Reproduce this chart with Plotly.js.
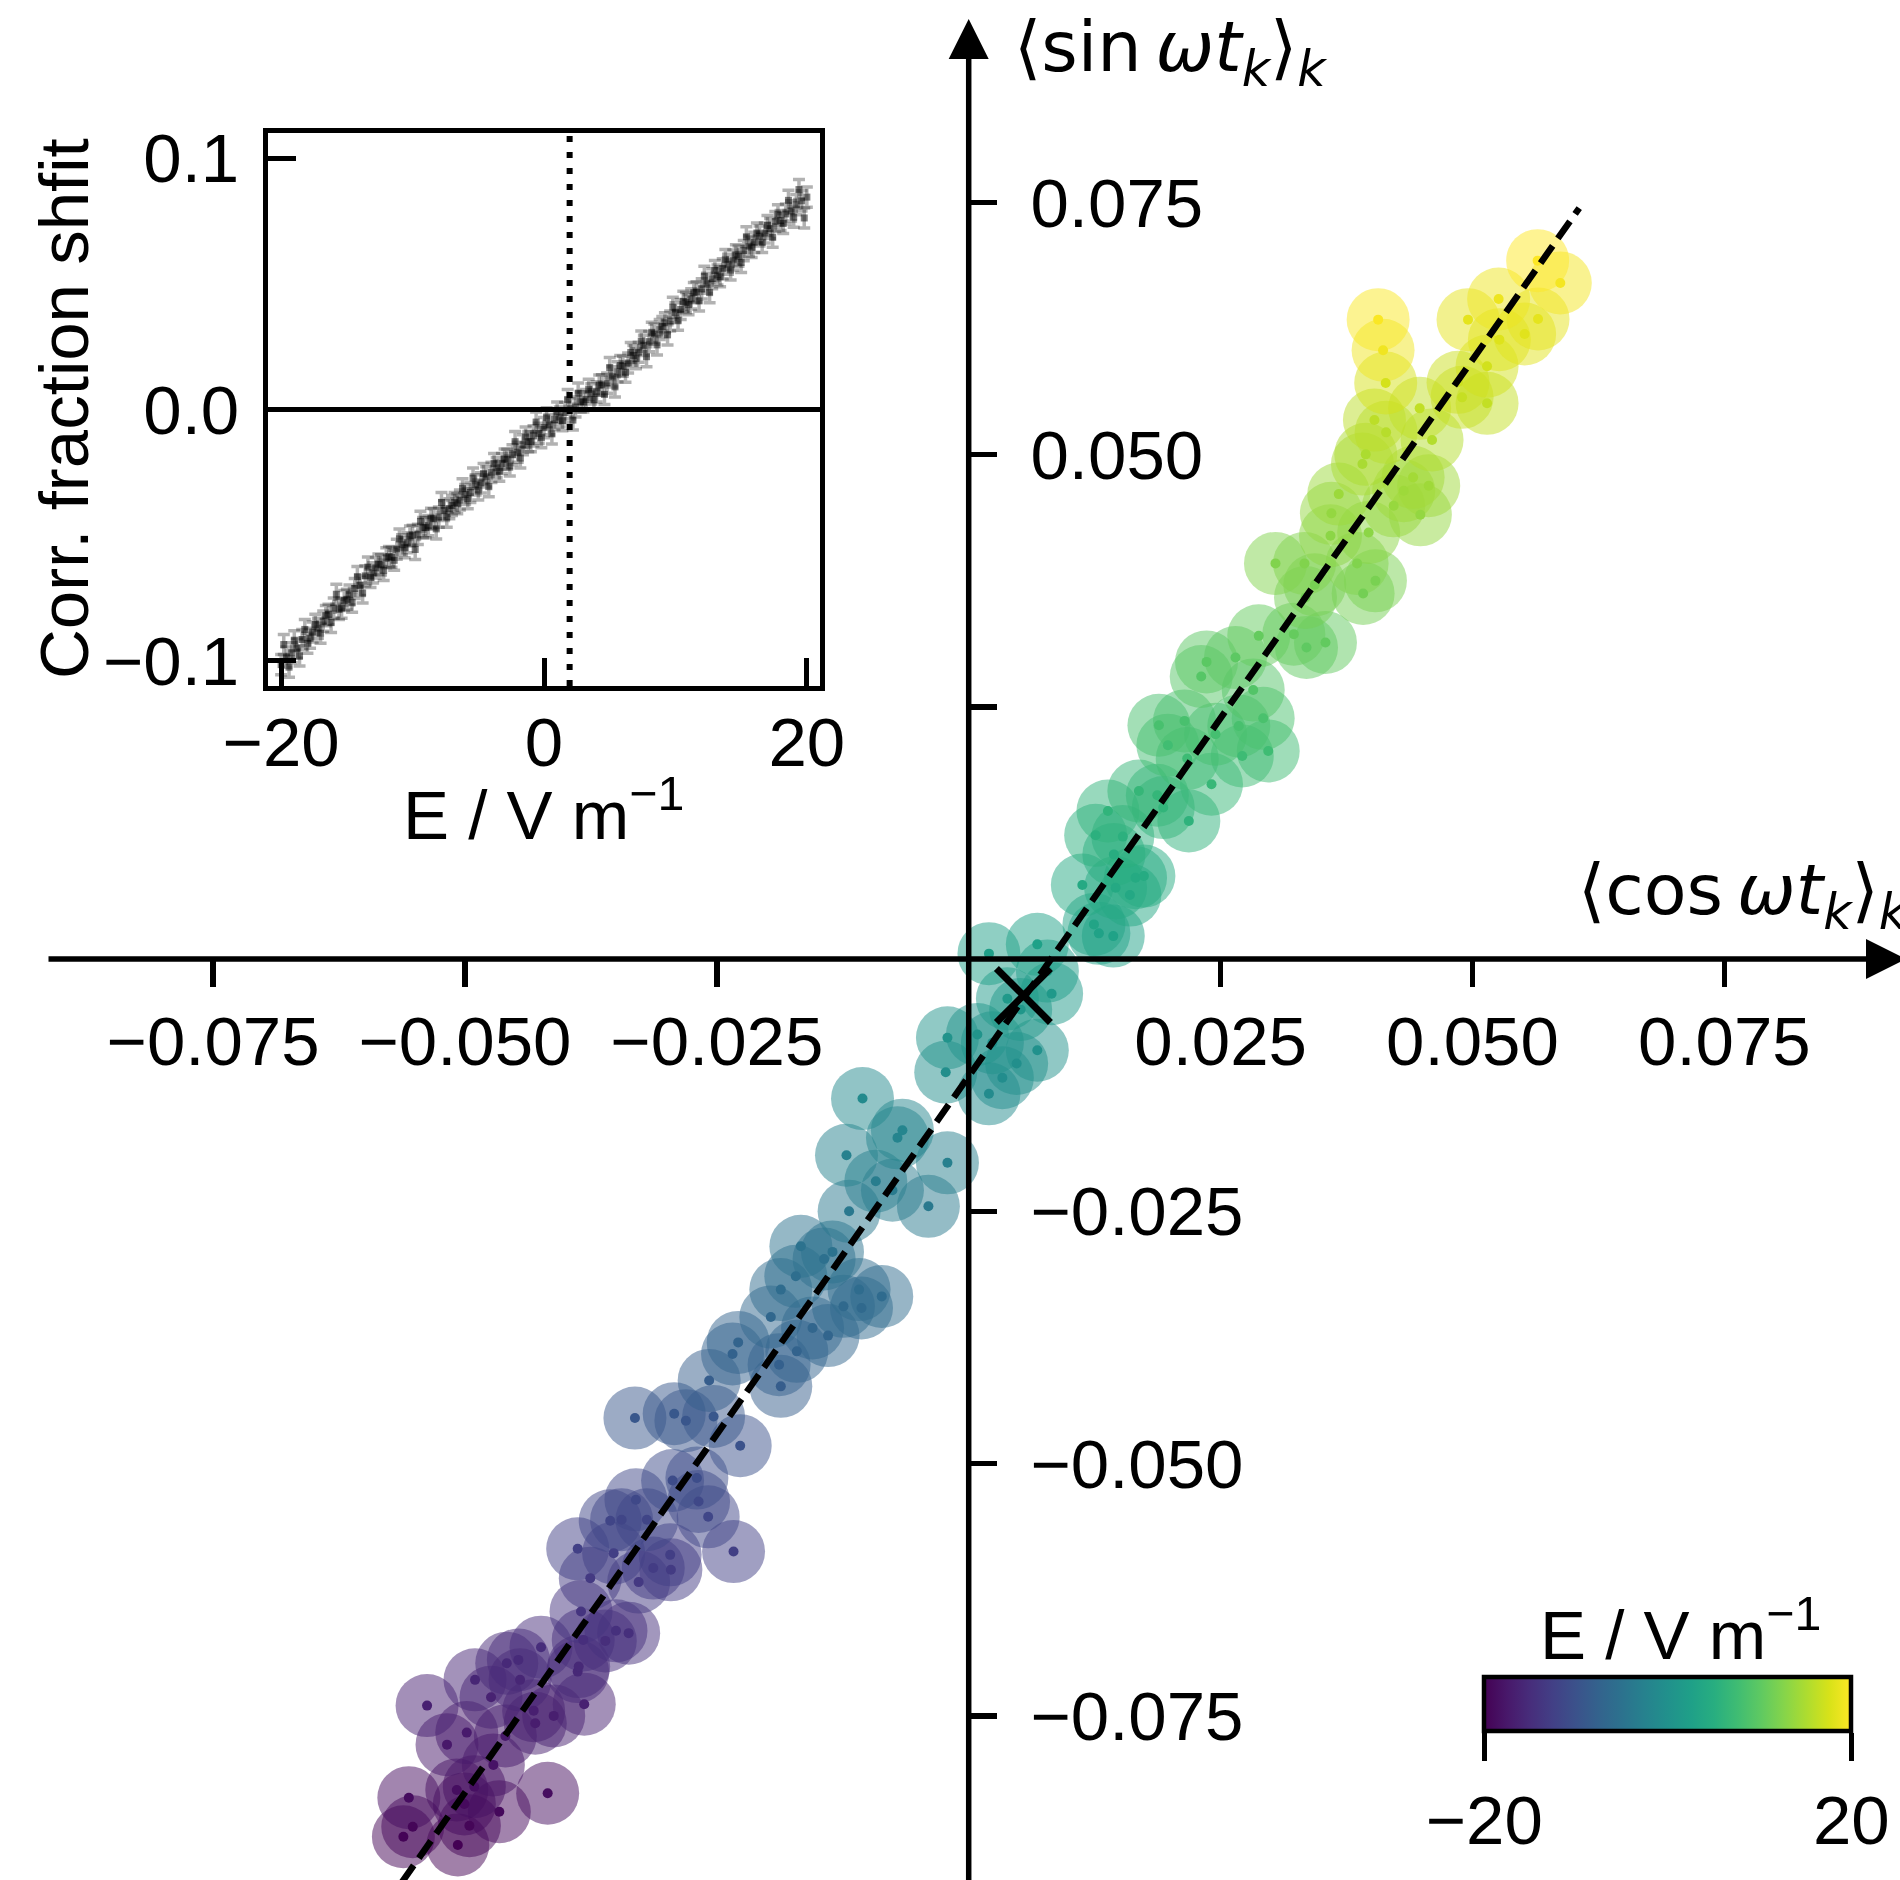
<!DOCTYPE html>
<html>
<head>
<meta charset="utf-8">
<script src="https://cdn.plot.ly/plotly-3.0.1.min.js"></script>
<style>html,body{margin:0;padding:0;background:#fff;}#chart{width:1900px;height:1880px;}</style>
</head>
<body>
<div id="chart"></div>
<script>
// ---------- main panel: one point per field value ----------
const mainCos = [-0.05071,-0.05611,-0.04956,-0.05518,-0.04659,-0.05006,-0.05557,-0.04179,-0.04907,-0.05081,-0.04718,-0.05178,-0.04599,-0.04982,-0.04302,-0.04119,-0.04318,-0.03816,-0.05376,-0.04741,-0.04453,-0.04900,-0.03881,-0.03871,-0.04470,-0.04585,-0.04245,-0.03607,-0.03826,-0.03375,-0.03501,-0.03848,-0.03276,-0.03756,-0.02956,-0.03131,-0.02334,-0.02963,-0.03524,-0.03881,-0.03194,-0.03445,-0.03558,-0.02586,-0.02681,-0.03303,-0.02939,-0.02698,
-0.02268,-0.03313,-0.02532,-0.02807,-0.02923,-0.01865,-0.02576,-0.01882,-0.02344,-0.01706,-0.02288,-0.01396,-0.01550,-0.01964,-0.01064,-0.01243,-0.00863,-0.01088,-0.01865,-0.01716,-0.01435,-0.01352,-0.01666,-0.01187,-0.00400,-0.00757,-0.00922,-0.00211,-0.01213,-0.00707,-0.00658,-0.01054,0.00201,0.00334,-0.00228,0.00476,0.00681,0.00235,0.00086,
-0.00211,0.00516,0.00384,0.00823,0.00781,0.00201,0.00681,0.01435,0.01292,0.01243,0.01600,0.01458,0.01128,0.01656,0.01739,0.01441,0.01530,0.01260,0.02185,0.01382,0.01931,0.01872,0.01689,0.02410,0.02169,0.02715,0.02973,0.01977,0.02450,0.02681,0.01888,0.02142,0.02923,0.02824,0.02308,0.02361,0.02648,0.03353,0.03541,
0.02879,0.03227,0.03343,0.03915,0.03435,0.04037,0.03855,0.03333,0.03045,0.03591,0.03970,0.03600,0.04483,0.04218,0.03673,0.04318,0.04566,0.04411,0.03908,0.03941,0.04599,0.04143,0.04027,0.04476,0.05145,0.04897,0.04857,0.05145,0.04139,0.05267,0.05518,0.04956,0.05651,0.05260,0.04113,0.05872,0.04064,0.05647];
const mainSin = [-0.08781,-0.08699,-0.08590,-0.08600,-0.08451,-0.08374,-0.08312,-0.08268,-0.08203,-0.08235,-0.07987,-0.07786,-0.07700,-0.07667,-0.07574,-0.07501,-0.07449,-0.07385,-0.07399,-0.07316,-0.07144,-0.07144,-0.07062,-0.07012,-0.06946,-0.06979,-0.06820,-0.06758,-0.06748,-0.06681,-0.06658,-0.06467,-0.06175,-0.06136,-0.06053,-0.06036,-0.05872,-0.05905,-0.05888,-0.05845,-0.05557,-0.05557,-0.05567,-0.05528,-0.05376,-0.05359,-0.05168,-0.05144,
-0.04823,-0.04549,-0.04533,-0.04575,-0.04506,-0.04235,-0.04176,-0.04020,-0.03914,-0.03888,-0.03799,-0.03732,-0.03656,-0.03547,-0.03458,-0.03442,-0.03343,-0.03276,-0.03276,-0.03144,-0.02972,-0.02902,-0.02847,-0.02500,-0.02450,-0.02291,-0.02202,-0.02019,-0.01944,-0.01771,-0.01696,-0.01382,-0.01335,-0.01176,-0.01121,-0.01035,-0.00903,-0.00829,-0.00747,
-0.00780,-0.00499,-0.00393,-0.00343,-0.00119,0.00054,0.00146,0.00228,0.00255,0.00344,0.00635,0.00708,0.00734,0.00807,0.00823,0.01038,0.01214,0.01227,0.01369,0.01468,0.01502,0.01624,0.01666,0.01733,0.01988,0.02013,0.02063,0.02120,0.02229,0.02311,0.02318,0.02361,0.02387,0.02668,0.02801,0.02946,0.02989,0.03089,0.03138,
0.03204,0.03221,0.03585,0.03624,0.03710,0.03749,0.03922,0.03922,0.03922,0.04196,0.04229,0.04418,0.04404,0.04493,0.04609,0.04642,0.04692,0.04775,0.04907,0.05003,0.05145,0.05221,0.05343,0.05459,0.05509,0.05568,0.05717,0.05876,0.05710,0.06140,0.06196,0.06338,0.06345,0.06543,0.06035,0.06702,0.06338,0.06923];
const mainE = [-20.0,-19.8,-19.5,-19.5,-19.2,-19.0,-18.8,-18.7,-18.5,-18.6,-18.0,-17.5,-17.3,-17.2,-16.9,-16.7,-16.6,-16.4,-16.5,-16.3,-15.8,-15.8,-15.6,-15.5,-15.3,-15.4,-15.0,-14.9,-14.8,-14.7,-14.6,-14.1,-13.4,-13.3,-13.1,-13.0,-12.6,-12.7,-12.6,-12.5,-11.8,-11.8,-11.8,-11.7,-11.3,-11.3,-10.8,-10.7,
-9.9,-9.2,-9.2,-9.3,-9.1,-8.4,-8.3,-7.9,-7.6,-7.5,-7.3,-7.1,-7.0,-6.7,-6.4,-6.4,-6.1,-6.0,-6.0,-5.6,-5.2,-5.0,-4.9,-4.0,-3.9,-3.5,-3.2,-2.8,-2.6,-2.1,-1.9,-1.1,-1.0,-0.6,-0.5,-0.3,0.1,0.3,0.5,
0.4,1.1,1.4,1.5,2.1,2.5,2.7,3.0,3.0,3.3,4.0,4.2,4.2,4.4,4.5,5.0,5.5,5.5,5.9,6.1,6.2,6.5,6.6,6.8,7.4,7.5,7.6,7.8,8.1,8.3,8.3,8.4,8.5,9.2,9.5,9.9,10.0,10.2,10.4,
10.5,10.6,11.5,11.6,11.8,11.9,12.4,12.4,12.4,13.1,13.1,13.6,13.6,13.8,14.1,14.2,14.3,14.5,14.9,15.1,15.5,15.7,16.0,16.3,16.4,16.6,16.9,17.3,17.5,18.0,18.2,18.5,18.5,19.0,19.2,19.4,19.8,20.0];

// linear fit through the main cloud, and the marked point
const fitSlope = 1.420;
const fitIntercept = -0.01161;
const fitCosEnds = [-0.0580, 0.0606];
const markCos = [0.00543];
const markSin = [-0.0036];

// ---------- inset: corrected fraction shift vs field ----------
const insetE_a = [-20.0,-19.6,-19.2,-18.8,-18.4,-18.0,-17.6,-17.2,-16.8,-16.4,-16.0,-15.6,-15.2,-14.8,-14.4,-14.0,-13.6,-13.2,-12.8,-12.4,-12.0,-11.6,-11.2,-10.8,-10.4,-10.0,-9.6,-9.2,-8.8,-8.4,-8.0,-7.6,-7.2,-6.8,-6.4,-6.0,-5.6,-5.2,-4.8,-4.4,-4.0,-3.6,-3.2,-2.8,-2.4,-2.0,-1.6,-1.2,-0.8,-0.4,0.0,0.4,0.8,1.2,1.6,2.0,2.4,2.8,3.2,3.6,4.0,4.4,4.8,5.2,5.6,6.0,6.4,6.8,7.2,7.6,8.0,8.4,8.8,9.2,9.6,10.0,10.4,10.8,11.2,11.6,12.0,12.4,12.8,13.2,13.6,14.0,14.4,14.8,15.2,15.6,16.0,16.4,16.8,17.2,17.6,18.0,18.4,18.8,19.2,19.6,20.0];
const insetShift_a = [-0.1015,-0.0985,-0.0968,-0.0950,-0.0915,-0.0930,-0.0885,-0.0870,-0.0842,-0.0815,-0.0790,-0.0795,-0.0760,-0.0738,-0.0712,-0.0700,-0.0662,-0.0668,-0.0630,-0.0618,-0.0590,-0.0588,-0.0556,-0.0538,-0.0530,-0.0500,-0.0497,-0.0470,-0.0462,-0.0435,-0.0428,-0.0402,-0.0395,-0.0370,-0.0360,-0.0338,-0.0330,-0.0300,-0.0292,-0.0268,-0.0250,-0.0232,-0.0215,-0.0198,-0.0180,-0.0170,-0.0140,-0.0128,-0.0105,-0.0095,-0.0072,-0.0060,-0.0040,-0.0030,-0.0012,0.0003,0.0010,0.0030,0.0040,0.0062,0.0070,0.0098,0.0105,0.0130,0.0150,0.0172,0.0185,0.0215,0.0228,0.0255,0.0270,0.0300,0.0318,0.0345,0.0352,0.0385,0.0398,0.0425,0.0440,0.0468,0.0480,0.0502,0.0520,0.0535,0.0560,0.0578,0.0595,0.0610,0.0632,0.0650,0.0665,0.0690,0.0702,0.0720,0.0748,0.0752,0.0778,0.0790,0.0815,0.0830,0.0845];
const insetE_b = [-19.8,-19.4,-19.0,-18.6,-18.2,-17.8,-17.4,-17.0,-16.6,-16.2,-15.8,-15.4,-15.0,-14.6,-14.2,-13.8,-13.4,-13.0,-12.6,-12.2,-11.8,-11.4,-11.0,-10.6,-10.2,-9.8,-9.4,-9.0,-8.6,-8.2,-7.8,-7.4,-7.0,-6.6,-6.2,-5.8,-5.4,-5.0,-4.6,-4.2,-3.8,-3.4,-3.0,-2.6,-2.2,-1.8,-1.4,-1.0,-0.6,-0.2,0.2,0.6,1.0,1.4,1.8,2.2,2.6,3.0,3.4,3.8,4.2,4.6,5.0,5.4,5.8,6.2,6.6,7.0,7.4,7.8,8.2,8.6,9.0,9.4,9.8,10.2,10.6,11.0,11.4,11.8,12.2,12.6,13.0,13.4,13.8,14.2,14.6,15.0,15.4,15.8,16.2,16.6,17.0,17.4,17.8,18.2,18.6,19.0,19.4,19.8];
const insetShift_b = [-0.0935,-0.1025,-0.0920,-0.0980,-0.0875,-0.0910,-0.0855,-0.0890,-0.0820,-0.0847,-0.0735,-0.0790,-0.0755,-0.0767,-0.0665,-0.0730,-0.0627,-0.0650,-0.0615,-0.0640,-0.0585,-0.0600,-0.0515,-0.0550,-0.0503,-0.0557,-0.0445,-0.0470,-0.0433,-0.0475,-0.0370,-0.0428,-0.0382,-0.0375,-0.0315,-0.0355,-0.0273,-0.0320,-0.0255,-0.0307,-0.0215,-0.0245,-0.0197,-0.0225,-0.0128,-0.0193,-0.0110,-0.0128,-0.0050,-0.0112,-0.0033,-0.0097,-0.0010,-0.0045,0.0040,-0.0042,0.0065,0.0030,0.0080,0.0040,0.0097,0.0060,0.0167,0.0090,0.0175,0.0148,0.0227,0.0202,0.0272,0.0210,0.0307,0.0257,0.0330,0.0297,0.0407,0.0355,0.0430,0.0417,0.0465,0.0432,0.0530,0.0465,0.0553,0.0528,0.0597,0.0555,0.0615,0.0585,0.0687,0.0645,0.0702,0.0665,0.0732,0.0685,0.0775,0.0740,0.0832,0.0765,0.0875,0.0762];
const insetErr = 0.004;
const insetZeroField = 1.95;

// ---------- ticks ----------
const mainXTickVals = [-0.075,-0.05,-0.025,0.025,0.05,0.075];
const mainXTickText = ['\u22120.075','\u22120.050','\u22120.025','0.025','0.050','0.075'];
const mainYTickVals = [-0.075,-0.05,-0.025,0.025,0.05,0.075];
const mainYTickText = ['\u22120.075','\u22120.050','\u22120.025','','0.050','0.075'];
const insetXTickVals = [-20,0,20];
const insetXTickText = ['\u221220','0','20'];
const insetYTickVals = [-0.1,0,0.1];
const insetYTickText = ['\u22120.1','0.0','0.1'];
const cbarTickVals = [-20,20];
const cbarTickText = ['\u221220','20'];

// ---------- geometry (pixels) ----------
const W = 1900, H = 1880;
const X0PX = 968.7, Y0PX = 959.1, XSCALE = 10075, YSCALE = 10089;
const px = v => v / W, py = v => (H - v) / H;

const FONT = 'Liberation Sans, Arial, Helvetica, sans-serif';
const MATHFONT = 'DejaVu Sans, sans-serif';

const fitCos = fitCosEnds.slice();
const fitSin = fitCos.map(c => fitSlope * c + fitIntercept);

const insetStyle = {
  mode: 'markers', type: 'scatter', xaxis: 'x2', yaxis: 'y2', hoverinfo: 'skip',
  marker: { size: 7, symbol: 'square', color: 'rgba(0,0,0,0.5)' },
  error_y: { type: 'constant', value: insetErr, color: 'rgba(0,0,0,0.3)', thickness: 3.5, width: 6 }
};

const traces = [
  { x: mainCos, y: mainSin, type: 'scatter', mode: 'markers', xaxis: 'x', yaxis: 'y', hoverinfo: 'skip',
    marker: { size: 63, color: mainE, colorscale: 'Viridis', cmin: -20, cmax: 20, opacity: 0.5, line: { width: 0 },
      showscale: true,
      colorbar: { orientation: 'h', x: px(1667.8), xanchor: 'center', y: py(1677), yanchor: 'top',
        len: 367, lenmode: 'pixels', thickness: 54, thicknessmode: 'pixels', xpad: 0, ypad: 0,
        outlinewidth: 4.5, outlinecolor: 'black', ticks: 'outside', ticklen: 28, tickwidth: 5, tickcolor: 'black',
        tickvals: cbarTickVals, ticktext: cbarTickText, tickfont: { family: FONT, size: 69, color: 'black' } } } },
  { x: mainCos, y: mainSin, type: 'scatter', mode: 'markers', xaxis: 'x', yaxis: 'y', hoverinfo: 'skip',
    marker: { size: 10, color: mainE, colorscale: 'Viridis', cmin: -20, cmax: 20, showscale: false, line: { width: 0 } } },
  { x: fitCos, y: fitSin, type: 'scatter', mode: 'lines', xaxis: 'x', yaxis: 'y', hoverinfo: 'skip',
    line: { color: 'black', width: 6.5, dash: '21px,9px' } },
  { x: markCos, y: markSin, type: 'scatter', mode: 'markers', xaxis: 'x', yaxis: 'y', hoverinfo: 'skip',
    marker: { symbol: 'x-thin', size: 54, line: { color: 'black', width: 7 }, color: 'black' } },
  Object.assign({ x: insetE_a, y: insetShift_a }, insetStyle),
  Object.assign({ x: insetE_b, y: insetShift_b }, insetStyle)
];

const tickFont = { family: FONT, size: 69, color: 'black' };

const layout = {
  width: W, height: H, margin: { l: 0, r: 0, t: 0, b: 0, pad: 0, autoexpand: false },
  paper_bgcolor: 'white', plot_bgcolor: 'rgba(0,0,0,0)', showlegend: false,
  font: { family: FONT, size: 69, color: 'black' },
  xaxis: { domain: [0, 1], range: [-X0PX / XSCALE, (W - X0PX) / XSCALE], anchor: 'free', position: py(Y0PX),
    showline: false, zeroline: false, showgrid: false, ticks: 'outside', ticklen: 27, tickwidth: 5.5, tickcolor: 'black',
    tickvals: mainXTickVals, ticktext: mainXTickText, tickfont: tickFont, ticklabelstandoff: -5 },
  yaxis: { domain: [0, 1], range: [-(H - Y0PX) / YSCALE, Y0PX / YSCALE], anchor: 'free', position: px(X0PX), side: 'right',
    showline: false, zeroline: false, showgrid: false, ticks: 'outside', ticklen: 27, tickwidth: 5.5, tickcolor: 'black',
    tickvals: mainYTickVals, ticktext: mainYTickText, tickfont: tickFont, ticklabelstandoff: 20 },
  xaxis2: { domain: [px(268), px(820)], anchor: 'y2', range: [-21, 21], showline: true, mirror: true, linewidth: 5, linecolor: 'black',
    zeroline: false, showgrid: false, ticks: 'inside', ticklen: 28, tickwidth: 5, tickcolor: 'black',
    tickvals: insetXTickVals, ticktext: insetXTickText, tickfont: tickFont, ticklabelstandoff: -8 },
  yaxis2: { domain: [py(686), py(133)], anchor: 'x2', range: [-0.11, 0.11], showline: true, mirror: true, linewidth: 5, linecolor: 'black',
    zeroline: false, showgrid: false, ticks: 'inside', ticklen: 28, tickwidth: 5, tickcolor: 'black',
    tickvals: insetYTickVals, ticktext: insetYTickText, tickfont: tickFont, ticklabelstandoff: 10 },
  shapes: [
    { type: 'line', xref: 'paper', yref: 'paper', x0: px(48.5), x1: px(1868), y0: py(Y0PX), y1: py(Y0PX), line: { color: 'black', width: 5.5 } },
    { type: 'line', xref: 'paper', yref: 'paper', x0: px(X0PX), x1: px(X0PX), y0: py(1880), y1: py(58), line: { color: 'black', width: 5.5 } },
    { type: 'path', xref: 'paper', yref: 'paper', fillcolor: 'black', line: { width: 0 },
      path: `M ${px(1866)} ${py(Y0PX - 20)} L ${px(1906)} ${py(Y0PX)} L ${px(1866)} ${py(Y0PX + 20)} Z` },
    { type: 'path', xref: 'paper', yref: 'paper', fillcolor: 'black', line: { width: 0 },
      path: `M ${px(X0PX - 20)} ${py(59)} L ${px(X0PX)} ${py(19)} L ${px(X0PX + 20)} ${py(59)} Z` },
    { type: 'line', xref: 'x2 domain', yref: 'y2', x0: 0, x1: 1, y0: 0, y1: 0, line: { color: 'black', width: 5 } },
    { type: 'line', xref: 'x2', yref: 'y2 domain', x0: insetZeroField, x1: insetZeroField, y0: 0, y1: 1, line: { color: 'black', width: 6, dash: '6px,10px' } }
  ],
  annotations: [
    { xref: 'paper', yref: 'paper', x: px(1012), y: py(52), xanchor: 'left', yanchor: 'middle', showarrow: false,
      text: '\u27E8sin\u2009<i>\u03C9t</i><sub><i>k</i></sub>\u27E9<sub><i>k</i></sub>', font: { family: MATHFONT, size: 70, color: 'black' } },
    { xref: 'paper', yref: 'paper', x: px(1576), y: py(895), xanchor: 'left', yanchor: 'middle', showarrow: false,
      text: '\u27E8cos\u2009<i>\u03C9t</i><sub><i>k</i></sub>\u27E9<sub><i>k</i></sub>', font: { family: MATHFONT, size: 70, color: 'black' } },
    { xref: 'paper', yref: 'paper', x: px(64), y: py(409), xanchor: 'center', yanchor: 'middle', textangle: -90, showarrow: false,
      text: 'Corr. fraction shfit', font: { family: FONT, size: 69, color: 'black' } },
    { xref: 'paper', yref: 'paper', x: px(543), y: py(810), xanchor: 'center', yanchor: 'middle', showarrow: false,
      text: 'E / V m<sup>\u22121</sup>', font: { family: FONT, size: 69, color: 'black' } },
    { xref: 'paper', yref: 'paper', x: px(1680), y: py(1630), xanchor: 'center', yanchor: 'middle', showarrow: false,
      text: 'E / V m<sup>\u22121</sup>', font: { family: FONT, size: 69, color: 'black' } }
  ]
};

Plotly.newPlot('chart', traces, layout, { displayModeBar: false, staticPlot: true });
</script>
</body>
</html>
